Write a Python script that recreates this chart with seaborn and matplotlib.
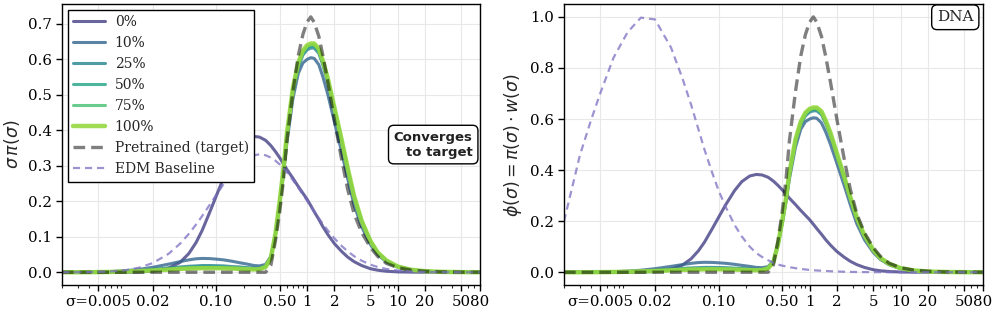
import numpy as np
import matplotlib
matplotlib.use("Agg")
from matplotlib import pyplot as plt
from matplotlib.ticker import LogLocator, NullFormatter
import seaborn as sns

# %% Data
sigma = [0.002, 0.003, 0.004, 0.005, 0.007, 0.01, 0.014, 0.02, 0.03, 0.04,
         0.05, 0.06, 0.07, 0.085, 0.1, 0.12, 0.15, 0.18, 0.22, 0.26,
         0.3, 0.35, 0.4, 0.45, 0.5, 0.55, 0.6, 0.7, 0.8, 0.9,
         1.0, 1.1, 1.2, 1.35, 1.5, 1.7, 2.0, 2.4, 2.8, 3.3,
         4.0, 5.0, 6.0, 7.5, 10, 14, 20, 30, 50, 80]

labels = ["0%", "10%", "25%", "50%", "75%", "100%"]

pi_0 = [0, 0, 0, 0, 0, 0, 0.001, 0.003, 0.012, 0.028,
        0.053, 0.084, 0.118, 0.17, 0.215, 0.265, 0.32, 0.355, 0.377, 0.383,
        0.381, 0.372, 0.357, 0.34, 0.323, 0.306, 0.29, 0.265, 0.242, 0.223,
        0.206, 0.188, 0.171, 0.149, 0.128, 0.106, 0.081, 0.059, 0.043, 0.03,
        0.019, 0.01, 0.0058, 0.0029, 0.0011, 0.0004, 0.0001, 0, 0, 0]
pi_10 = [0, 0.0003, 0.0006, 0.001, 0.002, 0.0045, 0.008, 0.014, 0.023, 0.030,
         0.035, 0.038, 0.039, 0.0385, 0.037, 0.035, 0.031, 0.027, 0.023, 0.019,
         0.018, 0.022, 0.045, 0.11, 0.19, 0.275, 0.365, 0.49, 0.56, 0.59,
         0.60, 0.605, 0.603, 0.585, 0.55, 0.50, 0.425, 0.34, 0.265, 0.19,
         0.128, 0.078, 0.05, 0.029, 0.014, 0.006, 0.0026, 0.001, 0.0003, 0.0001]
pi_25 = [0, 0.0002, 0.0004, 0.0006, 0.0012, 0.0025, 0.005, 0.008, 0.012, 0.015,
         0.017, 0.018, 0.019, 0.019, 0.0185, 0.018, 0.016, 0.015, 0.013, 0.012,
         0.012, 0.018, 0.042, 0.108, 0.196, 0.284, 0.382, 0.51, 0.578, 0.612,
         0.627, 0.632, 0.632, 0.617, 0.583, 0.534, 0.456, 0.367, 0.289, 0.211,
         0.142, 0.086, 0.055, 0.032, 0.016, 0.007, 0.003, 0.0012, 0.0004, 0.0001]
pi_50 = [0, 0.0001, 0.0003, 0.0005, 0.001, 0.002, 0.004, 0.0065, 0.0095, 0.012,
         0.0135, 0.0145, 0.015, 0.015, 0.015, 0.0145, 0.013, 0.012, 0.011, 0.010,
         0.0105, 0.016, 0.041, 0.109, 0.198, 0.287, 0.386, 0.515, 0.584, 0.619,
         0.634, 0.638, 0.638, 0.624, 0.589, 0.54, 0.46, 0.371, 0.292, 0.213,
         0.144, 0.087, 0.055, 0.033, 0.016, 0.007, 0.003, 0.0012, 0.0004, 0.0001]
pi_75 = [0, 0.0001, 0.0003, 0.0005, 0.001, 0.002, 0.0035, 0.0055, 0.008, 0.0105,
         0.012, 0.0125, 0.013, 0.013, 0.013, 0.0125, 0.0115, 0.0105, 0.0095, 0.009,
         0.0095, 0.015, 0.04, 0.11, 0.199, 0.289, 0.388, 0.517, 0.587, 0.622,
         0.637, 0.642, 0.642, 0.627, 0.592, 0.542, 0.463, 0.373, 0.294, 0.214,
         0.144, 0.088, 0.056, 0.033, 0.016, 0.007, 0.003, 0.0012, 0.0004, 0.0001]
pi_100 = [0, 0, 0.0003, 0.0005, 0.001, 0.002, 0.0035, 0.005, 0.0075, 0.0095,
          0.0105, 0.011, 0.0115, 0.0115, 0.0115, 0.011, 0.0105, 0.0095, 0.0085, 0.008,
          0.0085, 0.015, 0.04, 0.11, 0.20, 0.29, 0.39, 0.52, 0.59, 0.625,
          0.64, 0.645, 0.645, 0.63, 0.595, 0.545, 0.465, 0.375, 0.295, 0.215,
          0.145, 0.088, 0.056, 0.033, 0.016, 0.007, 0.003, 0.0012, 0.0004, 0.0001]

pretrained_left = [0, 0, 0, 0, 0, 0, 0, 0, 0, 0,
                   0, 0, 0, 0, 0, 0, 0, 0, 0, 0,
                   0, 0, 0.02, 0.09, 0.17, 0.26, 0.37, 0.51, 0.61, 0.67,
                   0.705, 0.72, 0.705, 0.665, 0.61, 0.535, 0.43, 0.32, 0.235, 0.165,
                   0.112, 0.07, 0.045, 0.025, 0.013, 0.006, 0.0027, 0.001, 0.0003, 0.0001]
edm_left = [0.00005, 0.0002, 0.0005, 0.001, 0.0024, 0.0059, 0.0127, 0.0259, 0.0524, 0.0807,
            0.1085, 0.1347, 0.1587, 0.1907, 0.218, 0.2477, 0.2807, 0.3032, 0.3212, 0.3299,
            0.3324, 0.3298, 0.3232, 0.3144, 0.304, 0.2931, 0.2819, 0.2597, 0.2386, 0.2193,
            0.2016, 0.1857, 0.1711, 0.1521, 0.1359, 0.1175, 0.0957, 0.0745, 0.0592, 0.0454,
            0.0326, 0.0215, 0.0148, 0.0092, 0.0047, 0.002, 0.0007, 0.0002, 0, 0]

pretrained_right = [0, 0, 0, 0, 0, 0, 0, 0, 0, 0,
                    0, 0, 0, 0, 0, 0, 0, 0, 0, 0,
                    0, 0, 0.028, 0.125, 0.236, 0.361, 0.514, 0.708, 0.847, 0.931,
                    0.979, 1.0, 0.979, 0.924, 0.847, 0.743, 0.597, 0.444, 0.326, 0.229,
                    0.156, 0.097, 0.0625, 0.035, 0.018, 0.008, 0.004, 0.0014, 0.0004, 0.0001]
edm_right = [0.20, 0.46, 0.60, 0.70, 0.84, 0.94, 0.997, 0.99, 0.88, 0.76,
             0.655, 0.56, 0.48, 0.39, 0.32, 0.255, 0.185, 0.14, 0.10, 0.075,
             0.06, 0.047, 0.037, 0.03, 0.026, 0.023, 0.02, 0.016, 0.013, 0.011,
             0.009, 0.008, 0.007, 0.006, 0.005, 0.004, 0.003, 0.002, 0.0015, 0.001,
             0.0007, 0.0005, 0.0003, 0.0002, 0.0001, 0, 0, 0, 0, 0]

xticks = [0.005, 0.02, 0.1, 0.5, 1, 2, 5, 10, 20, 50, 80]
xticklabels = ["σ=0.005", "0.02", "0.10", "0.50", "1", "2", "5", "10", "20", "50", "80"]

# %% Style
sns.set_theme(style="ticks")
plt.rcParams["font.family"] = ["DejaVu Serif"]
plt.rcParams["mathtext.fontset"] = "dejavusans"
plt.rcParams["axes.edgecolor"] = "black"
plt.rcParams["axes.linewidth"] = 1.0

cmap = plt.get_cmap("viridis")
colors = [cmap(f) for f in [0.18, 0.32, 0.45, 0.58, 0.70, 0.84]]
alphas = [0.8, 0.8, 0.8, 0.8, 0.8, 0.9]
widths = [2.2, 2.2, 2.2, 2.2, 2.2, 3.2]
curves = [pi_0, pi_10, pi_25, pi_50, pi_75, pi_100]


def style_axis(ax):
    ax.set_xscale("log")
    ax.set_xlim(0.002, 80)
    ax.set_xticks(xticks)
    ax.set_xticklabels(xticklabels)
    ax.xaxis.set_minor_locator(LogLocator(base=10, subs=np.arange(2, 10), numticks=50))
    ax.xaxis.set_minor_formatter(NullFormatter())
    ax.grid(True, which="major", color="#e8e8e8", lw=0.8)
    ax.set_axisbelow(True)
    ax.tick_params(which="major", direction="out", length=4, width=1, labelsize=10.8, colors="black")
    ax.tick_params(which="minor", direction="out", length=2.5, width=0.8)
    for sp in ax.spines.values():
        sp.set_visible(True)
        sp.set_color("black")
        sp.set_linewidth(1.0)
    ax.set_xlabel("")


def draw_panel(ax, pretrained, edm, show_labels):
    for vals, c, a, lw, lab in zip(curves, colors, alphas, widths, labels):
        sns.lineplot(x=sigma, y=vals, ax=ax, color=c, linewidth=lw, alpha=a,
                     label=lab if show_labels else None)
    sns.lineplot(x=sigma, y=pretrained, ax=ax, color="black", alpha=0.5, linewidth=2.4,
                 linestyle=(0, (3.5, 1.8)), label="Pretrained (target)" if show_labels else None)
    sns.lineplot(x=sigma, y=edm, ax=ax, color="#7b70c2", alpha=0.75, linewidth=1.6,
                 linestyle=(0, (3.2, 2.2)), label="EDM Baseline" if show_labels else None)
    if ax.get_legend() is not None:
        ax.get_legend().remove()


# %% Figure
fig = plt.figure(figsize=(9.97, 3.16), dpi=100)
ax1 = fig.add_axes([0.0622, 0.098, 0.419, 0.889])
ax2 = fig.add_axes([0.5657, 0.098, 0.420, 0.889])

draw_panel(ax1, pretrained_left, edm_left, True)
style_axis(ax1)
ax1.set_ylabel(r"$\sigma\,\pi(\sigma)$", fontsize=12.5)
leg = ax1.legend(loc="upper left", fontsize=10, frameon=True, fancybox=False,
                 edgecolor="black", framealpha=1, handlelength=2.3, handletextpad=0.7,
                 borderaxespad=0.4)
leg.get_frame().set_linewidth(1.0)
ax1.text(0.983, 0.5, "Converges\nto target", transform=ax1.transAxes, ha="right", va="center",
         fontsize=9.5, fontweight="bold", family="DejaVu Sans", color="#222222",
         multialignment="right",
         bbox=dict(boxstyle="round,pad=0.4", fc="white", ec="black", lw=1.0))

draw_panel(ax2, pretrained_right, edm_right, False)
style_axis(ax2)
ax2.set_ylabel(r"$\phi(\sigma) = \pi(\sigma) \cdot w(\sigma)$", fontsize=12.5)
ax2.text(0.978, 0.978, "DNA", transform=ax2.transAxes, ha="right", va="top", fontsize=11,
         bbox=dict(boxstyle="round,pad=0.35", fc="white", ec="black", lw=1.0))

fig.savefig("out.png", dpi=100)
